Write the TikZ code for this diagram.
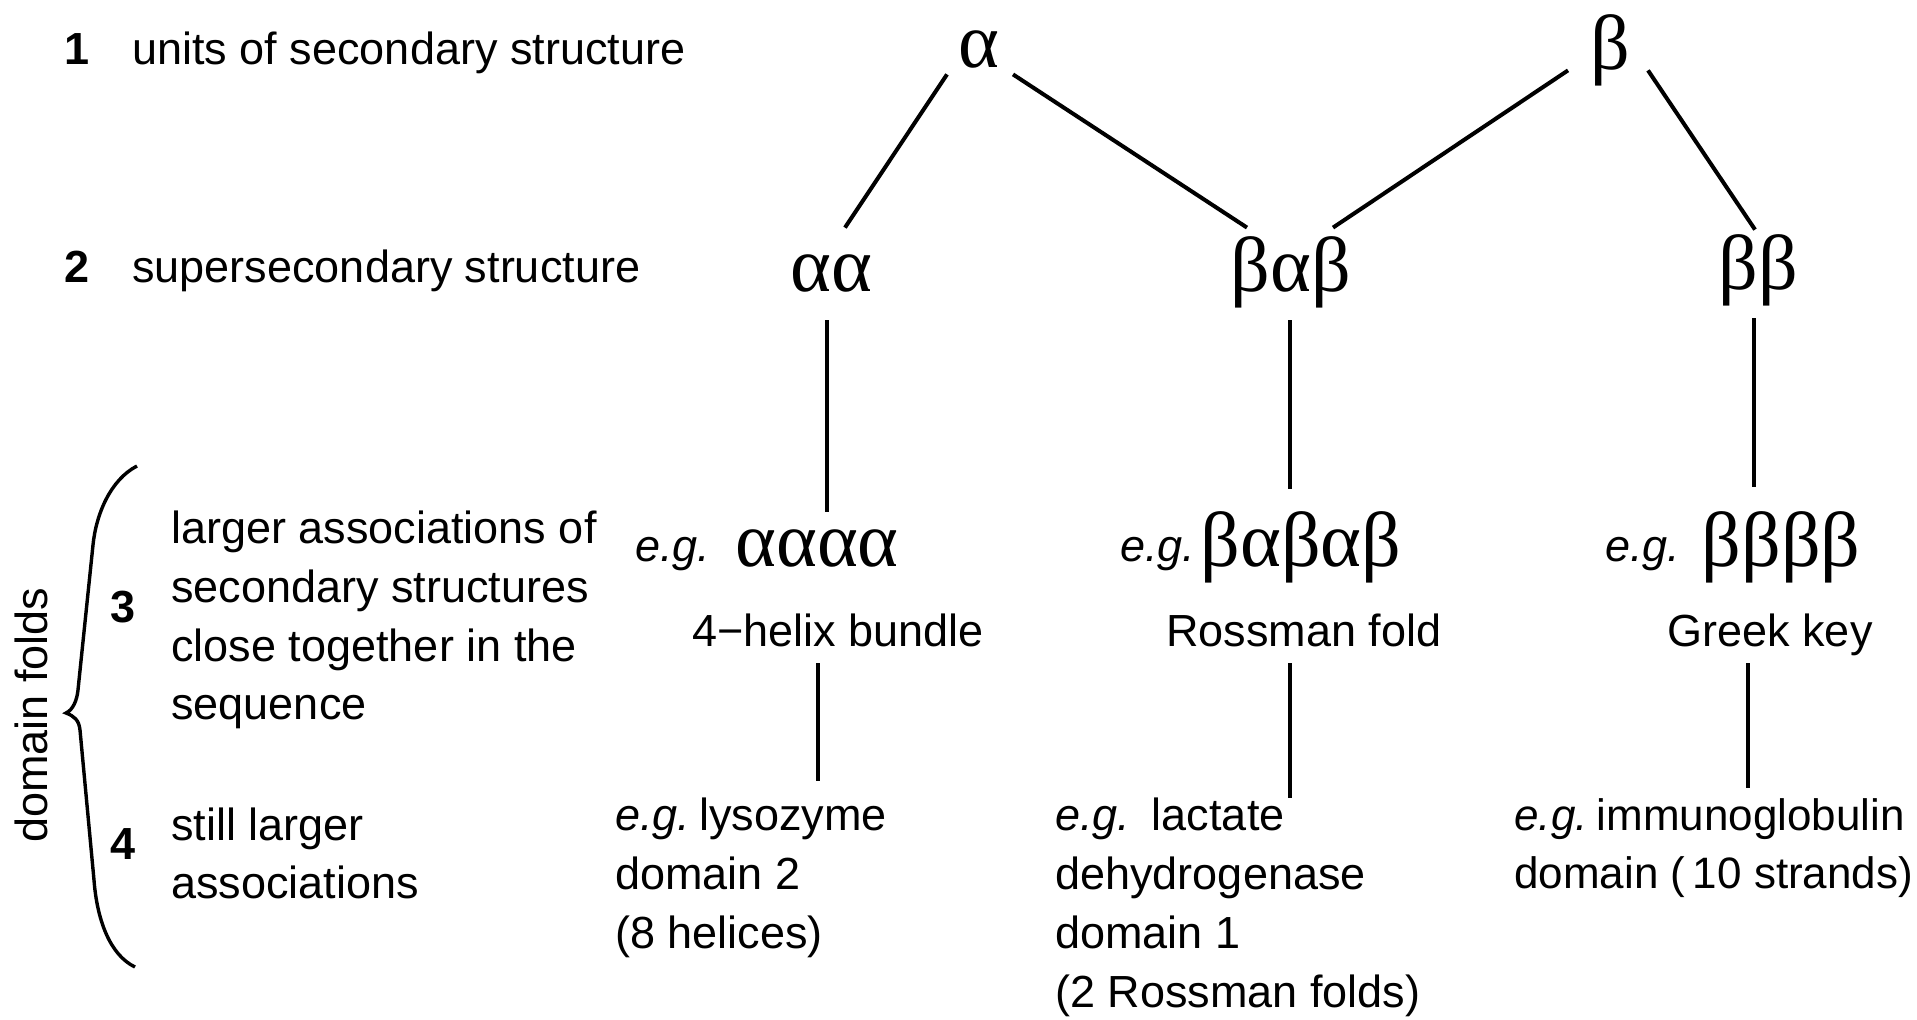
\documentclass[tikz,border=0pt]{standalone}
\usepackage{fontspec}
\setmainfont{Liberation Sans}
\newfontfamily\grkfont{Liberation Serif}
\usetikzlibrary{calc}
\begin{document}
\begin{tikzpicture}[x=0.5pt,y=-0.5pt]
\tikzset{
  txt/.style={inner sep=0pt, font=\fontsize{22.5}{29.35}\selectfont},
  lefttxt/.style={txt, anchor=base west, align=left},
  egtxt/.style={lefttxt, font=\fontsize{22.5}{29.35}\selectfont\itshape},
  numtxt/.style={inner sep=0pt, anchor=base west, font=\fontsize{22.5}{29.35}\selectfont\bfseries},
  grk/.style={inner sep=0pt, anchor=base, font=\fontsize{39}{39}\selectfont\grkfont},
  conn/.style={line width=2pt},
}
\newcommand\eg{\textit{e.g.}\hspace{0.2em}}
\useasboundingbox (0,0) rectangle (1917,1020);
\fill[white] (0,0) rectangle (1917,1020);

% level labels
\node[numtxt] (n1) at (64,65) {1};
\node[lefttxt] (l1) at (132,65) {units of secondary structure};
\node[numtxt] (n2) at (64,283) {2};
\node[lefttxt] (l2) at (132,283) {supersecondary structure};

% secondary structure units
\node[grk, text depth=3pt] (alpha) at (979,68) {α};
\node[grk, text depth=0pt] (beta) at (1610,70) {β};

% supersecondary motifs
\node[grk, text height=32pt, text depth=14pt] (aa) at (831,292) {αα};
\node[grk, text height=32pt, text depth=14pt] (bab) at (1291,292) {βαβ};
\node[grk, text height=30pt, text depth=14pt] (bb) at (1758,290) {ββ};

\draw[conn] ([xshift=-16pt]alpha.south) -- ([xshift=7pt]aa.north);
\draw[conn] ([xshift=17pt]alpha.south) -- ([xshift=-22pt]bab.north);
\draw[conn] ([xshift=-21pt]beta.south) -- ([xshift=21pt]bab.north);
\draw[conn] ([xshift=19pt]beta.south) -- ([xshift=-1.5pt]bb.north);

% larger associations
\node[egtxt] (eg1) at (635,562) {e.g.};
\node[grk, text height=27.5pt] (aaaa) at (817,567) {αααα};
\node[egtxt] (eg2) at (1120,562) {e.g.};
\node[grk, text height=39pt] (babab) at (1301,567) {βαβαβ};
\node[egtxt] (eg3) at (1605,562) {e.g.};
\node[grk, text height=40pt] (bbbb) at (1781,567) {ββββ};

\draw[conn] ([xshift=-2pt]aa.south) -- ([xshift=-2pt]aa.south |- aaaa.north);
\draw[conn] ([xshift=-0.5pt]bab.south) -- ([xshift=-0.5pt]bab.south |- babab.north);
\draw[conn] ([xshift=-2pt]bb.south) -- ([xshift=-2pt]bb.south |- bbbb.north);

\node[txt, anchor=base, text depth=8pt] (helix) at (838,647) {4−helix bundle};
\node[txt, anchor=base, text depth=8pt] (ross) at (1304,647) {Rossman fold};
\node[txt, anchor=base, text depth=8pt] (gkey) at (1770,647) {Greek key};

% example domains (anchored on the baseline of their last line)
\node[lefttxt, inner ysep=8.5pt] (lys) at (615,948) {\eg lysozyme\\domain 2\\(8 helices)};
\node[lefttxt] (ldh) at (1055,1007) {\eg\ lactate\\dehydrogenase\\domain 1\\(2 Rossman folds)};
\node[lefttxt, inner ysep=5pt, font=\fontsize{22}{28.7}\selectfont] (igg) at (1514,888) {\eg immunoglobulin\\domain (\,10 strands)};

\draw[conn] ([xshift=-10pt]helix.south) -- ([xshift=-10pt]helix.south |- lys.north);
\draw[conn] ([xshift=-7pt]ross.south) -- ([xshift=-7pt]ross.south |- ldh.north);
\draw[conn] ([xshift=-11pt]gkey.south) -- ([xshift=-11pt]gkey.south |- igg.north);

% domain fold levels
\node[lefttxt] (l3) at (171,720) {larger associations of\\secondary structures\\close together in the\\sequence};
\node[numtxt] (n3) at (110,623) {3};
\node[lefttxt] (l4) at (171,899) {still larger\\associations};
\node[numtxt] (n4) at (110,859) {4};
\node[txt, rotate=90] (dfold) at (31,715) {domain folds};

% curly brace grouping levels 3 and 4
\draw[line width=1.7pt] (137,466) .. controls (110,480) and (96,515) .. (93,545)
  -- (78,690) .. controls (77,700) and (73,710) .. (66,713)
  .. controls (74,716) and (79,720) .. (80,730)
  -- (94,880) .. controls (97,920) and (110,955) .. (135,967);
\end{tikzpicture}
\end{document}
